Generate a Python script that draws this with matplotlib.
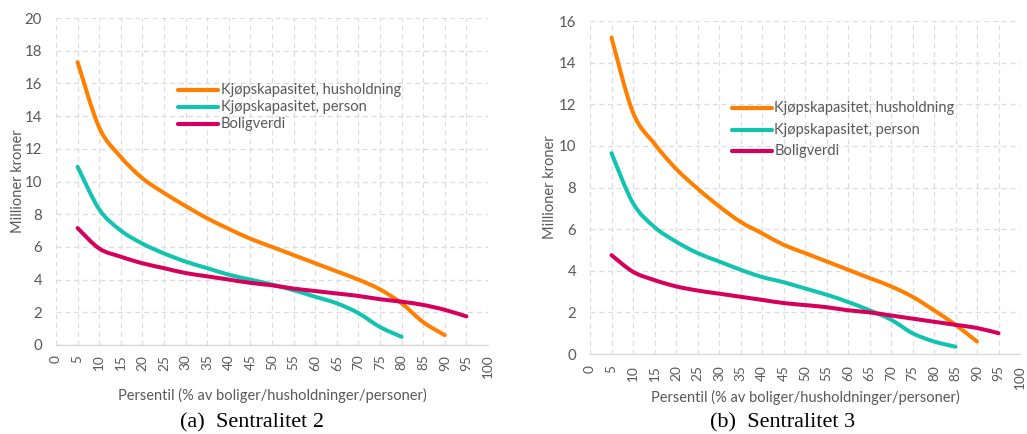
import matplotlib
matplotlib.use("Agg")
import matplotlib.pyplot as plt
from matplotlib.path import Path
from matplotlib.patches import PathPatch
import numpy as np

# Percentile positions
pct_sent2_hh = [5, 10, 15, 20, 25, 30, 35, 40, 45, 50, 55, 60, 65, 70, 75, 80, 85, 90]
pct_sent2_person = [5, 10, 15, 20, 25, 30, 35, 40, 45, 50, 55, 60, 65, 70, 75, 80]
pct_sent2_bolig = [5, 10, 15, 20, 25, 30, 35, 40, 45, 50, 55, 60, 65, 70, 75, 80, 85, 90, 95]

pct_sent3_hh = [5, 10, 15, 20, 25, 30, 35, 40, 45, 50, 55, 60, 65, 70, 75, 80, 85, 90]
pct_sent3_person = [5, 10, 15, 20, 25, 30, 35, 40, 45, 50, 55, 60, 65, 70, 75, 80, 85]
pct_sent3_bolig = [5, 10, 15, 20, 25, 30, 35, 40, 45, 50, 55, 60, 65, 70, 75, 80, 85, 90, 95]

# Sentralitet 2 (million NOK)
sent2_hh = [17.3, 13.3, 11.5, 10.2, 9.3, 8.5, 7.75, 7.1, 6.5, 6.0, 5.5, 5.0, 4.5,
            4.0, 3.4, 2.55, 1.4, 0.6]
sent2_person = [10.9, 8.3, 7.0, 6.2, 5.6, 5.1, 4.7, 4.3, 4.0, 3.7, 3.35, 2.95, 2.55,
                1.95, 1.1, 0.5]
sent2_bolig = [7.15, 5.9, 5.4, 5.0, 4.7, 4.4, 4.2, 4.0, 3.8, 3.65, 3.45, 3.3, 3.15,
               3.0, 2.8, 2.65, 2.45, 2.15, 1.75]

# Sentralitet 3 (million NOK)
sent3_hh = [15.2, 11.6, 10.1, 8.9, 7.95, 7.1, 6.35, 5.8, 5.25, 4.85, 4.45, 4.05, 3.65,
            3.25, 2.75, 2.1, 1.4, 0.6]
sent3_person = [9.65, 7.25, 6.1, 5.4, 4.85, 4.45, 4.05, 3.7, 3.45, 3.15, 2.85, 2.5, 2.1,
                1.65, 1.0, 0.6, 0.35]
sent3_bolig = [4.75, 3.95, 3.55, 3.25, 3.05, 2.9, 2.75, 2.6, 2.45, 2.35, 2.25, 2.1, 2.0,
               1.85, 1.7, 1.55, 1.4, 1.25, 1.0]

series_labels = ["Kjøpskapasitet, husholdning", "Kjøpskapasitet, person", "Boligverdi"]
series_colors = ["#FF8000", "#12C4B0", "#D5005B"]
x_ticks = list(range(0, 101, 5))
captions = ["(a)  Sentralitet 2", "(b)  Sentralitet 3"]
x_title = "Persentil (% av boliger/husholdninger/personer)"
y_title = "Millioner kroner"

TEXT = "#595959"
GRID = "#D9DEE5"
FONT = "Lato"


def smooth_path(x, y):
    """Cubic Bezier path through the points (Catmull-Rom style smoothing)."""
    pts = np.column_stack([x, y]).astype(float)
    n = len(pts)
    verts = [pts[0]]
    codes = [Path.MOVETO]
    for i in range(n - 1):
        p0 = pts[i - 1] if i > 0 else pts[i]
        p1 = pts[i]
        p2 = pts[i + 1]
        p3 = pts[i + 2] if i + 2 < n else pts[i + 1]
        c1 = p1 + (p2 - p0) / 6.0
        c2 = p2 - (p3 - p1) / 6.0
        verts += [c1, c2, p2]
        codes += [Path.CURVE4] * 3
    return Path(verts, codes)


def draw_panel(ax, data, ymax, legend_xy, legend_dy, ylabel_x, xlabel_y, xt_pad):
    for (xs, ys), color, label in zip(data, series_colors, series_labels):
        patch = PathPatch(smooth_path(xs, ys), facecolor="none", edgecolor=color,
                          lw=2.9, capstyle="round", joinstyle="round", zorder=3)
        ax.add_patch(patch)
    ax.set_xlim(0, 100)
    ax.set_ylim(0, ymax)
    ax.set_xticks(x_ticks)
    ax.set_xticklabels([str(t) for t in x_ticks], rotation=90, fontsize=9.8,
                       color=TEXT, family=FONT)
    ax.set_yticks(range(0, ymax + 1, 2))
    ax.set_yticklabels([str(t) for t in range(0, ymax + 1, 2)], fontsize=10.8,
                       color=TEXT, family=FONT)
    ax.tick_params(axis="both", length=0)
    ax.tick_params(axis="y", pad=10)
    ax.tick_params(axis="x", pad=xt_pad)
    ax.grid(True, color=GRID, linestyle=(0, (4, 3)), lw=0.9, zorder=0)
    for side in ["left", "right", "top"]:
        ax.spines[side].set_visible(False)
    ax.spines["bottom"].set_color("#D9D9D9")
    ax.spines["bottom"].set_linewidth(1.0)
    ax.set_axisbelow(True)
    ax.set_ylabel(y_title, fontsize=10.5, color=TEXT, family=FONT, va="center")
    ax.yaxis.set_label_coords(ylabel_x, 0.5)
    ax.set_xlabel(x_title, fontsize=10.5, color=TEXT, family=FONT, va="center")
    ax.xaxis.set_label_coords(0.5, xlabel_y)

    # legend drawn as line samples with labels in data coordinates
    lx, ly = legend_xy
    for k, (color, label) in enumerate(zip(series_colors, series_labels)):
        yy = ly - k * legend_dy
        ax.plot([lx, lx + 9.3], [yy, yy], color=color, lw=3.0,
                solid_capstyle="round", zorder=4)
        ax.text(lx + 9.9, yy, label, fontsize=10.5, color=TEXT, family=FONT,
                va="center", ha="left", zorder=4)


fig = plt.figure(figsize=(10.27, 4.34), dpi=100)
ax1 = fig.add_axes([56 / 1027, 1 - 345 / 434, 432 / 1027, 327 / 434])
ax2 = fig.add_axes([590 / 1027, 1 - 354 / 434, 430 / 1027, 333 / 434])

draw_panel(ax1,
           [(pct_sent2_hh, sent2_hh), (pct_sent2_person, sent2_person),
            (pct_sent2_bolig, sent2_bolig)],
           20, (28.2, 15.6), 1.05, (18 - 56) / 432, (345 - 395) / 327, 7)
draw_panel(ax2,
           [(pct_sent3_hh, sent3_hh), (pct_sent3_person, sent3_person),
            (pct_sent3_bolig, sent3_bolig)],
           16, (33.0, 11.8), 1.03, (550 - 590) / 430, (354 - 397) / 333, 8)

fig.text(252 / 1027, 1 - 423 / 434, captions[0], fontsize=16, family="Liberation Serif",
         color="black", ha="center", va="center")
fig.text(783 / 1027, 1 - 423 / 434, captions[1], fontsize=16, family="Liberation Serif",
         color="black", ha="center", va="center")

fig.savefig("out.png", dpi=100)
